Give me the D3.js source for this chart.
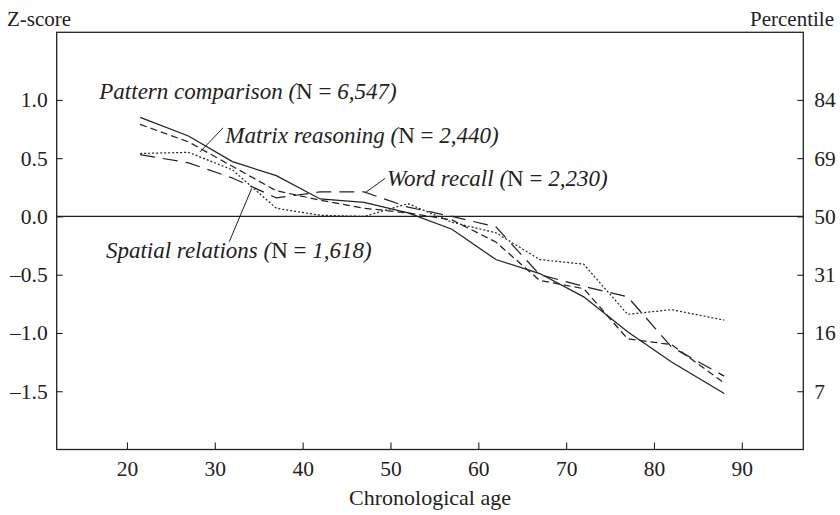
<!DOCTYPE html>
<html>
<head>
<meta charset="utf-8">
<script src="https://cdn.jsdelivr.net/npm/d3@7"></script>
<style>
  body { margin: 0; background: #fff; }
  svg { display: block; }
  text { font-family: "Liberation Serif", "Times New Roman", serif; fill: #222; }
</style>
</head>
<body>
<div id="chart"></div>
<script>
// age groups (mid points)
var ages = [21.5, 27, 32, 37, 42, 47, 52, 57, 62, 67, 72, 77, 82, 88];

// z-scores
var patternComparison = [0.85, 0.69, 0.47, 0.35, 0.15, 0.12, 0.03, -0.11, -0.37, -0.49, -0.69, -0.99, -1.25, -1.52];
var matrixReasoning   = [0.79, 0.64, 0.43, 0.22, 0.14, 0.07, 0.03, -0.03, -0.22, -0.55, -0.62, -1.05, -1.10, -1.43];
var wordRecall        = [0.53, 0.46, 0.33, 0.16, 0.21, 0.21, 0.08, 0.00, -0.09, -0.50, -0.60, -0.69, -1.12, -1.37];
var spatialRelations  = [0.54, 0.55, 0.40, 0.07, 0.01, 0.00, 0.11, -0.05, -0.14, -0.37, -0.41, -0.84, -0.80, -0.89];

var seriesNames = ["Pattern comparison", "Matrix reasoning", "Word recall", "Spatial relations"];
var seriesN = ["6,547", "2,440", "2,230", "1,618"];

var xTicks = [20, 30, 40, 50, 60, 70, 80, 90];
var zTicks = [1.0, 0.5, 0.0, -0.5, -1.0, -1.5];
var pctLabels = ["84", "69", "50", "31", "16", "7"];

(function() {
var W = 840, H = 515;
var pl = 56.7, pr = 803.3, pt = 32.3, pb = 449.5;

var svg = d3.select("#chart").append("svg")
  .attr("width", W)
  .attr("height", H);

var x = d3.scaleLinear().domain([12, 97]).range([pl, pr]);
var y = d3.scaleLinear().domain([-2.0, 1.58]).range([pb, pt]);

var fmt = function(d) { return (d < 0 ? "\u2013" : "") + d3.format(".1f")(Math.abs(d)); };

// left axis
var yAxis = d3.axisLeft(y).tickValues(zTicks).tickSize(-6).tickPadding(9).tickFormat(fmt);
var gy = svg.append("g").attr("transform", "translate(" + pl + ",0)").call(yAxis);

// right axis (percentiles)
var yAxisR = d3.axisRight(y).tickValues(zTicks).tickSize(-6).tickPadding(11)
  .tickFormat(function(d, i) { return pctLabels[i]; });
var gr = svg.append("g").attr("transform", "translate(" + pr + ",0)").call(yAxisR);

// bottom axis
var xAxis = d3.axisBottom(x).tickValues(xTicks).tickSize(-7).tickPadding(11).tickFormat(d3.format("d"));
var gx = svg.append("g").attr("transform", "translate(0," + pb + ")").call(xAxis);

[gy, gr, gx].forEach(function(g) {
  g.select(".domain").remove();
  g.selectAll(".tick line").attr("stroke", "#222").attr("stroke-width", 1.1);
  g.selectAll(".tick text").attr("font-size", 21.5).attr("fill", "#222")
    .style("font-family", "Liberation Serif");
});

// frame
svg.append("rect")
  .attr("x", pl).attr("y", pt)
  .attr("width", pr - pl).attr("height", pb - pt)
  .attr("fill", "none").attr("stroke", "#222").attr("stroke-width", 1.3);

// zero line
svg.append("line")
  .attr("x1", pl).attr("x2", pr)
  .attr("y1", y(0)).attr("y2", y(0))
  .attr("stroke", "#222").attr("stroke-width", 1.3);

// series
var line = d3.line().x(function(d) { return x(d[0]); }).y(function(d) { return y(d[1]); });
var allSeries = [patternComparison, matrixReasoning, wordRecall, spatialRelations];
var dashes = [null, "7,4", "15,8", "2,2"];

allSeries.forEach(function(vals, i) {
  svg.append("path")
    .datum(ages.map(function(a, j) { return [a, vals[j]]; }))
    .attr("d", line)
    .attr("fill", "none")
    .attr("stroke", "#222")
    .attr("stroke-width", i == 3 ? 1.2 : 1.25)
    .attr("stroke-dasharray", dashes[i]);
});

// labels (italic name, upright N =)
function label(i, ax, az) {
  var t = svg.append("text")
    .attr("x", x(ax)).attr("y", y(az))
    .attr("font-size", 23)
    .style("font-style", "italic");
  t.append("tspan").text(seriesNames[i] + " (");
  t.append("tspan").style("font-style", "normal").text("N = ");
  t.append("tspan").text(seriesN[i] + ")");
}
label(0, 16.85, 1.005);
label(1, 31.2, 0.627);
label(2, 49.6, 0.26);
label(3, 17.6, -0.36);

// leader lines
function leader(a1, z1, a2, z2) {
  svg.append("line")
    .attr("x1", x(a1)).attr("y1", y(z1))
    .attr("x2", x(a2)).attr("y2", y(z2))
    .attr("stroke", "#222").attr("stroke-width", 1);
}
leader(30.95, 0.76, 28.3, 0.553);
leader(49.4, 0.327, 47.1, 0.203);
leader(31.65, -0.217, 34.2, 0.24);

// axis titles
svg.append("text").attr("x", 7).attr("y", 26).attr("font-size", 21).text("Z-score");
svg.append("text").attr("x", 834).attr("y", 26).attr("font-size", 21)
  .attr("text-anchor", "end").text("Percentile");
svg.append("text").attr("x", (pl + pr) / 2).attr("y", 505).attr("font-size", 22)
  .attr("text-anchor", "middle").text("Chronological age");
})();
</script>
</body>
</html>
